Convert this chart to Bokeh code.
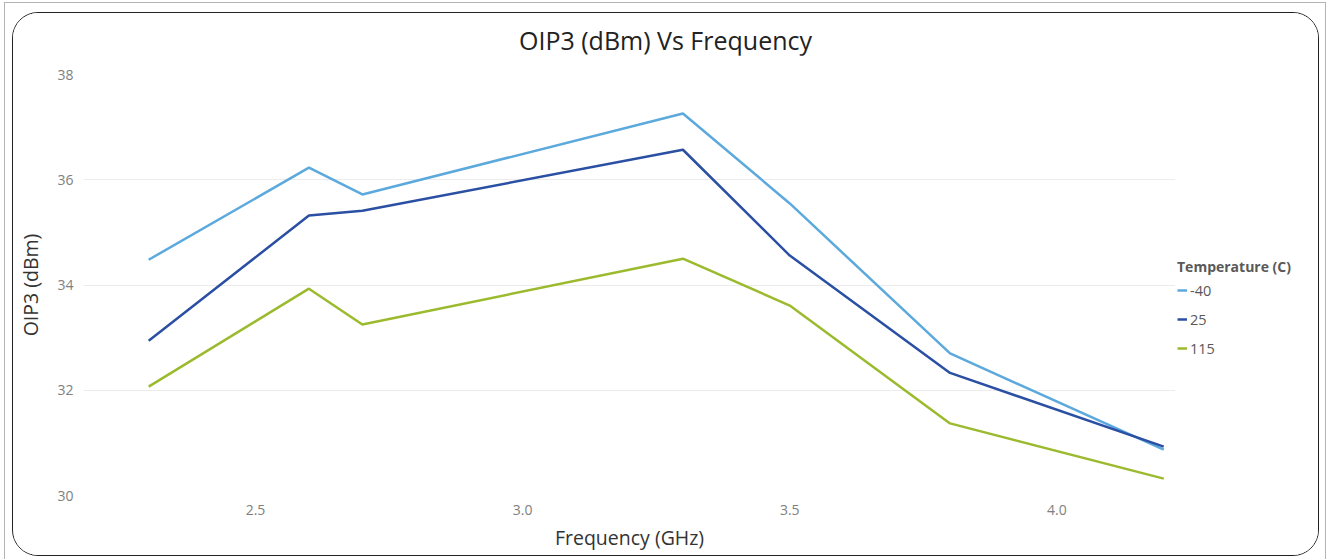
from bokeh.plotting import figure
from bokeh.models import Range1d, FixedTicker, Legend, LegendItem, Div
from bokeh.layouts import row, column
from bokeh.embed import file_html
from bokeh.resources import INLINE

freq_ghz = [2.3, 2.6, 2.7, 3.3, 3.5, 3.8, 4.2]
oip3_m40 = [34.48, 36.23, 35.72, 37.26, 35.55, 32.70, 30.87]
oip3_25 = [32.94, 35.32, 35.41, 36.57, 34.56, 32.33, 30.93]
oip3_115 = [32.07, 33.93, 33.25, 34.50, 33.61, 31.37, 30.32]
series_names = ["-40", "25", "115"]
series_colors = ["#5ba9dd", "#2a4fa3", "#9cba2e"]
x_ticks = [2.5, 3.0, 3.5, 4.0]
x_tick_labels = ["2.5", "3.0", "3.5", "4.0"]
y_ticks = [30, 32, 34, 36, 38]
chart_title = "OIP3 (dBm) Vs Frequency"

FONT = "Open Sans"
TITLE_H = 42

title_div = Div(text=f'<div style="padding-top:15px; line-height:25px; text-align:center;">{chart_title}</div>',
                width=1305, height=TITLE_H, margin=0)
title_div.styles = {"font-family": FONT, "font-size": "25px", "color": "#222222",
                    "text-align": "center", "background-color": "white"}

p = figure(width=1162, height=542 - TITLE_H, output_backend="svg", toolbar_location=None,
           x_range=Range1d(2.178, 4.222), y_range=Range1d(30, 38),
           min_border_left=70, min_border_right=0, min_border_top=19, min_border_bottom=60)

p.outline_line_color = None
p.background_fill_color = "white"
p.border_fill_color = "white"

for ax in (p.xaxis[0], p.yaxis[0]):
    ax.axis_line_color = None
    ax.major_tick_line_color = None
    ax.minor_tick_line_color = None
    ax.major_label_text_font = FONT
    ax.major_label_text_font_size = "14px"
    ax.major_label_text_color = "#808080"
    ax.axis_label_text_font = FONT
    ax.axis_label_text_font_size = "19.5px"
    ax.axis_label_text_font_style = "normal"
    ax.axis_label_text_color = "#333333"

p.xaxis.ticker = FixedTicker(ticks=x_ticks)
p.xaxis.major_label_overrides = {t: l for t, l in zip(x_ticks, x_tick_labels)}
p.yaxis.ticker = FixedTicker(ticks=y_ticks)
p.xaxis.axis_label = "Frequency (GHz)"
p.yaxis.axis_label = "OIP3 (dBm)"
p.xaxis.major_label_standoff = 3
p.yaxis.major_label_standoff = 4
p.xaxis.axis_label_standoff = 6
p.yaxis.axis_label_standoff = 10

p.xgrid.grid_line_color = None
p.ygrid.grid_line_color = "#ececec"
p.ygrid.grid_line_width = 1

# legend panel: a second, axis-less figure holding the legend
pl = figure(width=143, height=542 - TITLE_H, output_backend="svg", toolbar_location=None,
            x_range=Range1d(0, 1), y_range=Range1d(0, 1),
            x_axis_location=None, y_axis_location=None, min_border=0)
pl.grid.visible = False
pl.outline_line_color = None
pl.background_fill_color = "white"
pl.border_fill_color = "white"

items = []
for name, ys, col in zip(series_names, [oip3_m40, oip3_25, oip3_115], series_colors):
    p.line(freq_ghz, ys, line_color=col, line_width=2.5)
    # same series in the legend figure (outside its range, so only the legend glyph shows)
    r = pl.line(freq_ghz, ys, line_color=col, line_width=2.5)
    items.append(LegendItem(label=name, renderers=[r]))

legend = Legend(items=items, location=(2, 137), title="Temperature (C)",
                title_text_font=FONT, title_text_font_size="14px", title_text_font_style="bold",
                title_text_color="#595959", title_standoff=4,
                label_text_font=FONT, label_text_font_size="14.5px", label_text_color="#595959",
                glyph_width=10, glyph_height=20, label_height=20, label_standoff=3,
                spacing=9, padding=0, margin=0, border_line_color=None,
                background_fill_alpha=0)
pl.add_layout(legend, "center")

box = column(title_div, row(p, pl, spacing=0), spacing=0)
box.styles = {"border": "1.5px solid #222222", "border-radius": "26px", "overflow": "hidden",
              "position": "relative", "left": "7px", "top": "9px", "background-color": "white"}

outer = column(box)
outer.styles = {"border-left": "1px solid #b4b4b4", "border-right": "1px solid #b4b4b4",
                "border-top": "1px solid #b4b4b4", "position": "relative", "left": "4px",
                "top": "2px", "width": "1322px", "height": "557px", "background-color": "white"}

open("out.html", "w").write(file_html(outer, INLINE))
